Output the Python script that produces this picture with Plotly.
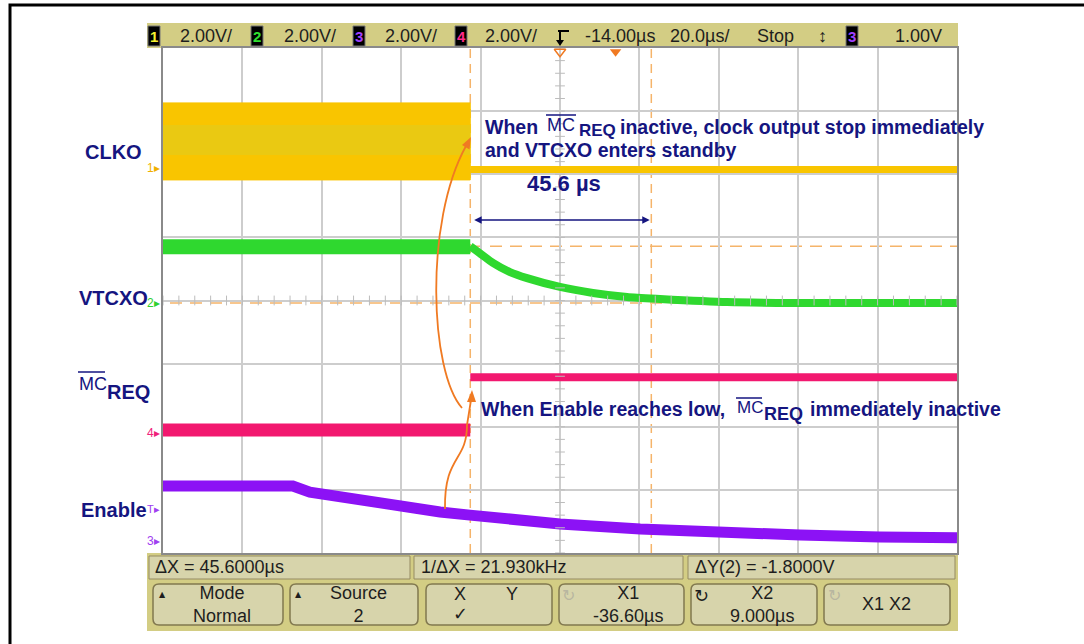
import plotly.graph_objects as go
import numpy as np

W, H = 1084, 644


def px(x):
    return x / W


def py(y):
    return 1 - y / H


# ---------------- scope settings ----------------
t_left, t_right = -114.0, 86.0          # µs (20 µs/div, delay -14 µs)
time_div = 20.0
n_div_y = 8
vdiv = 2.0                               # V/div (all channels)
gnd = {"CLKO": 6.10, "VTCXO": 3.96, "MCREQ": 1.90, "Enable": 0.19}  # ground level (div)
x1_cursor = -36.6
x2_cursor = 9.0
y1_cursor = 1.8
y2_cursor = 0.0
trig_level = 1.0
delay_ref = -14.0
trig_time = 0.0

# ---------------- waveform data (µs, V) ----------------
clko_on_t = [-114.0, -36.6]
clko_on_hi = [2.06, 2.06]
clko_on_lo = [-0.38, -0.38]
clko_mid_hi = [1.36, 1.36]
clko_mid_lo = [0.41, 0.41]
clko_off_t = [-36.6, 86.0]
clko_off_v = [-0.05, -0.05]

vtcxo_on_t = [-114.0, -36.6]
vtcxo_on_v = [1.78, 1.78]
vtcxo_off_t = [-36.6, -34.2, -30.9, -26.6, -22.3, -14.0, -5.7, 2.9, 11.2, 28.1, 44.7, 86.0]
vtcxo_off_v = [1.80, 1.58, 1.27, 0.98, 0.79, 0.51, 0.32, 0.19, 0.13, 0.03, 0.0, 0.0]

mcreq_low_t = [-114.0, -36.6]
mcreq_low_v = [0.10, 0.10]
mcreq_high_t = [-36.6, 86.0]
mcreq_high_v = [1.77, 1.77]

enable_t = [-114.0, -81.3, -77.0, -66.9, -54.3, -44.2, -36.7, -24.1, -14.0, 6.2, 26.3, 46.5, 66.6, 86.0]
enable_v = [1.74, 1.74, 1.55, 1.33, 1.11, 0.92, 0.82, 0.63, 0.54, 0.38, 0.25, 0.19, 0.13, 0.10]

# ---------------- colours ----------------
C_CLKO = "#f9c500"
C_CLKO_MID = "rgba(200,212,60,0.30)"
C_VT = "#2fd82f"
C_MC = "#f2186f"
C_EN = "#8c12f5"
NAVY = "#151580"
ORANGE = "#f07a22"
CURSOR = "#f5b46a"
KHAKI = "#d3cd84"
BOXFILL = "#d7d4ab"
GRID = "#cdcdcd"


def dv(ch, v):
    return [gnd[ch] + val / vdiv for val in v]


fig = go.Figure()

# CLKO oscillating band
fig.add_trace(go.Scatter(
    x=clko_on_t + clko_on_t[::-1],
    y=dv("CLKO", clko_on_hi) + dv("CLKO", clko_on_lo)[::-1],
    fill="toself", fillcolor=C_CLKO, line=dict(color=C_CLKO, width=1),
    mode="lines", hoverinfo="skip"))
fig.add_trace(go.Scatter(
    x=clko_on_t + clko_on_t[::-1],
    y=dv("CLKO", clko_mid_hi) + dv("CLKO", clko_mid_lo)[::-1],
    fill="toself", fillcolor=C_CLKO_MID, line=dict(width=0),
    mode="lines", hoverinfo="skip"))
fig.add_trace(go.Scatter(x=clko_off_t, y=dv("CLKO", clko_off_v), mode="lines",
                         line=dict(color=C_CLKO, width=7), hoverinfo="skip"))

# VTCXO
fig.add_trace(go.Scatter(x=vtcxo_on_t, y=dv("VTCXO", vtcxo_on_v), mode="lines",
                         line=dict(color=C_VT, width=15), hoverinfo="skip"))
fig.add_trace(go.Scatter(x=vtcxo_off_t, y=dv("VTCXO", vtcxo_off_v), mode="lines",
                         line=dict(color=C_VT, width=8, shape="spline", smoothing=0.6),
                         hoverinfo="skip"))

# MCREQ
fig.add_trace(go.Scatter(x=mcreq_low_t, y=dv("MCREQ", mcreq_low_v), mode="lines",
                         line=dict(color=C_MC, width=13), hoverinfo="skip"))
fig.add_trace(go.Scatter(x=mcreq_high_t, y=dv("MCREQ", mcreq_high_v), mode="lines",
                         line=dict(color=C_MC, width=8), hoverinfo="skip"))

# Enable
fig.add_trace(go.Scatter(x=enable_t, y=dv("Enable", enable_v), mode="lines",
                         line=dict(color=C_EN, width=11), hoverinfo="skip"))

# minor ticks on centre lines
yc = n_div_y / 2
xc = (t_left + t_right) / 2
fig.add_trace(go.Scatter(x=[xc] * 41, y=list(np.arange(0, 8.01, 0.2)), mode="markers",
                         marker=dict(symbol="line-ew", size=7, line=dict(color="#bcbcbc", width=1)),
                         hoverinfo="skip"))
fig.add_trace(go.Scatter(x=list(np.arange(t_left, t_right + 0.1, 4.0)), y=[yc] * 51, mode="markers",
                         marker=dict(symbol="line-ns", size=7, line=dict(color="#bcbcbc", width=1)),
                         hoverinfo="skip"))

# delay / trigger markers at top of graticule
fig.add_trace(go.Scatter(x=[delay_ref], y=[n_div_y - 0.06], mode="markers", cliponaxis=False,
                         marker=dict(symbol="triangle-down-open", size=10, color=ORANGE,
                                     line=dict(width=1.5, color=ORANGE)), hoverinfo="skip"))
fig.add_trace(go.Scatter(x=[trig_time], y=[n_div_y - 0.06], mode="markers", cliponaxis=False,
                         marker=dict(symbol="triangle-down", size=10, color=ORANGE), hoverinfo="skip"))

shapes = []
ann = []

# outer frame
shapes.append(dict(type="rect", xref="paper", yref="paper", x0=px(10), y0=py(5), x1=px(1100), y1=py(700),
                   line=dict(color="black", width=3), layer="above"))

# header / footer panels
shapes.append(dict(type="rect", xref="paper", yref="paper", x0=px(147), y0=py(23), x1=px(958), y1=py(48),
                   fillcolor=KHAKI, line=dict(width=0), layer="below"))
shapes.append(dict(type="rect", xref="paper", yref="paper", x0=px(147), y0=py(553), x1=px(958), y1=py(631),
                   fillcolor=KHAKI, line=dict(width=0), layer="below"))

# readout boxes
for (a, b) in [(149, 410), (414, 683), (688, 955)]:
    shapes.append(dict(type="rect", xref="paper", yref="paper", x0=px(a), y0=py(556), x1=px(b), y1=py(579),
                       fillcolor=BOXFILL, line=dict(color="#958b62", width=1)))


def rrect(x0, y0, x1, y1, r):
    return (f"M{px(x0 + r)},{py(y0)} L{px(x1 - r)},{py(y0)} Q{px(x1)},{py(y0)} {px(x1)},{py(y0 + r)} "
            f"L{px(x1)},{py(y1 - r)} Q{px(x1)},{py(y1)} {px(x1 - r)},{py(y1)} "
            f"L{px(x0 + r)},{py(y1)} Q{px(x0)},{py(y1)} {px(x0)},{py(y1 - r)} "
            f"L{px(x0)},{py(y0 + r)} Q{px(x0)},{py(y0)} {px(x0 + r)},{py(y0)} Z")


buttons = [(153, 283), (290, 418), (426, 552), (559, 684), (691, 817), (824, 950)]
for (a, b) in buttons:
    shapes.append(dict(type="path", xref="paper", yref="paper", path=rrect(a, 584, b, 625, 6),
                       fillcolor=BOXFILL, line=dict(color="#81784f", width=1.5)))

# header channel boxes
for (a, num, col) in [(148, "1", "#f5f030"), (251, "2", "#30e030"), (353, "3", "#a040ff"),
                      (455, "4", "#ff2a8a"), (846, "3", "#a040ff")]:
    shapes.append(dict(type="rect", xref="paper", yref="paper", x0=px(a), y0=py(26), x1=px(a + 12), y1=py(46),
                       fillcolor="black", line=dict(color="#777777", width=1)))
    ann.append(dict(x=px(a + 6), y=py(36), xref="paper", yref="paper", text=f"<b>{num}</b>", showarrow=False,
                    font=dict(family="Liberation Sans", size=15, color=col), xanchor="center", yanchor="middle"))

HFONT = "Liberation Sans Narrow, Arial Narrow, Liberation Sans, sans-serif"
for (txt, x) in [("2.00V/", 178), ("2.00V/", 282), ("2.00V/", 383), ("2.00V/", 483),
                 ("-14.00µs", 583), ("20.0µs/", 668), ("Stop", 755), ("↕", 816), ("1.00V", 893)]:
    ann.append(dict(x=px(x), y=py(36), xref="paper", yref="paper", text=txt, showarrow=False,
                    font=dict(family=HFONT, size=18, color="#1e1e1e"), xanchor="left", yanchor="middle"))

# falling-edge trigger symbol
shapes.append(dict(type="line", xref="paper", yref="paper", x0=px(558), y0=py(31), x1=px(569), y1=py(31),
                   line=dict(color="black", width=2)))
shapes.append(dict(type="line", xref="paper", yref="paper", x0=px(560), y0=py(31), x1=px(560), y1=py(42),
                   line=dict(color="black", width=2)))
shapes.append(dict(type="path", xref="paper", yref="paper",
                   path=f"M{px(556)},{py(40)} L{px(564)},{py(40)} L{px(560)},{py(46)} Z",
                   fillcolor="black", line=dict(width=0)))

# footer texts
for (txt, x) in [("ΔX = 45.6000µs", 153), ("1/ΔX = 21.930kHz", 419), ("ΔY(2) = -1.8000V", 693)]:
    ann.append(dict(x=px(x), y=py(567), xref="paper", yref="paper", text=txt, showarrow=False,
                    font=dict(family=HFONT, size=18, color="#1e1e1e"), xanchor="left", yanchor="middle"))

for (txt, x) in [("Mode<br>Normal", 222), ("Source<br>2", 358), ("X1<br>-36.60µs", 628),
                 ("X2<br>9.000µs", 762), ("X1 X2", 886)]:
    ann.append(dict(x=px(x), y=py(604), xref="paper", yref="paper", text=txt, showarrow=False,
                    font=dict(family=HFONT, size=18, color="#1e1e1e"), xanchor="center", yanchor="middle"))
for (txt, x, y) in [("X", 460, 594), ("Y", 512, 594), ("✓", 460, 614)]:
    ann.append(dict(x=px(x), y=py(y), xref="paper", yref="paper", text=txt, showarrow=False,
                    font=dict(family=HFONT, size=18, color="#1e1e1e"), xanchor="center", yanchor="middle"))
for x in [162, 298]:
    ann.append(dict(x=px(x), y=py(594), xref="paper", yref="paper", text="▲", showarrow=False,
                    font=dict(family="DejaVu Sans", size=8, color="#1e1e1e"), xanchor="center", yanchor="middle"))
for (x, col, sz) in [(568, "#b8b6a0", 16), (701, "#1e1e1e", 18), (834, "#b8b6a0", 16)]:
    ann.append(dict(x=px(x), y=py(595), xref="paper", yref="paper", text="↻", showarrow=False,
                    font=dict(family="DejaVu Sans", size=sz, color=col), xanchor="center", yanchor="middle"))

# channel ground markers
for (num, ch, col) in [("1", "CLKO", "#f0b000"), ("2", "VTCXO", "#30d030"), ("4", "MCREQ", "#f0207a"),
                       ("3", "Enable", "#a040f0")]:
    ann.append(dict(x=px(162), y=gnd[ch], xref="paper", yref="y", text=f"{num}▸", showarrow=False,
                    font=dict(family="Liberation Sans", size=12, color=col), xanchor="right", yanchor="middle"))
ann.append(dict(x=px(162), y=gnd["Enable"] + trig_level / vdiv, xref="paper", yref="y", text="T▸",
                showarrow=False, font=dict(family="Liberation Sans", size=11, color="#a040f0"),
                xanchor="right", yanchor="middle"))

# cursors
for xc_ in [x1_cursor, x2_cursor]:
    shapes.append(dict(type="line", xref="x", yref="paper", x0=xc_, x1=xc_, y0=py(553), y1=py(48),
                       line=dict(color=CURSOR, width=1.5, dash="9px,6px"), layer="between"))
for yv in [y1_cursor, y2_cursor]:
    yy = gnd["VTCXO"] + yv / vdiv
    shapes.append(dict(type="line", xref="paper", yref="y", x0=px(170), x1=px(957), y0=yy, y1=yy,
                       line=dict(color=CURSOR, width=1.5, dash="12px,8px"), layer="between"))

# ---------------- annotation texts ----------------
TF = "Liberation Sans, Arial, sans-serif"


def label(txt, x, y, size=20, bold=True, color=NAVY):
    ann.append(dict(x=px(x), y=py(y), xref="paper", yref="paper",
                    text=(f"<b>{txt}</b>" if bold else txt), showarrow=False,
                    font=dict(family=TF, size=size, color=color), xanchor="left", yanchor="middle"))


def overline(x0, x1, y):
    shapes.append(dict(type="line", xref="paper", yref="paper", x0=px(x0), x1=px(x1), y0=py(y), y1=py(y),
                       line=dict(color=NAVY, width=1.5)))


label("CLKO", 83, 152)
label("VTCXO", 77, 298)
label("Enable", 79, 510)
label("MC", 77, 384, size=18, bold=False)
label("REQ", 105, 392, size=20)
overline(78, 105, 372)

label("When", 483, 127, size=19.5)
label("MC", 545, 125, size=18, bold=False)
label("REQ", 577, 131, size=17)
overline(546, 576, 115)
label("inactive, clock output stop immediately", 618, 127, size=19.5)
label("and VTCXO enters standby", 483, 150, size=19.5)
label("45.6 µs", 525, 183, size=22)

label("When Enable reaches low,", 479, 409, size=19.5)
label("MC", 735, 407, size=17, bold=False)
label("REQ", 762, 414, size=18)
overline(736, 762, 398)
label("immediately inactive", 808, 409, size=19.5)

# double arrow between the cursors
ann.append(dict(x=x2_cursor - 0.4, y=(553 - 220) / 63.125, xref="x", yref="y",
                ax=x1_cursor + 0.6, ay=(553 - 220) / 63.125, axref="x", ayref="y",
                text="", showarrow=True, arrowhead=2, startarrowhead=2, arrowside="end+start",
                arrowsize=1, startarrowsize=1, arrowwidth=1.5, arrowcolor=NAVY))

# orange curved arrows
shapes.append(dict(type="path", xref="paper", yref="paper",
                   path=(f"M{px(445)},{py(509)} C{px(444)},{py(455)} {px(467)},{py(462)} "
                         f"{px(467)},{py(425)} L{px(471)},{py(400)}"),
                   line=dict(color=ORANGE, width=1.8)))
shapes.append(dict(type="path", xref="paper", yref="paper",
                   path=f"M{px(472)},{py(390)} L{px(467)},{py(402)} L{px(476)},{py(402)} Z",
                   fillcolor=ORANGE, line=dict(width=0)))
shapes.append(dict(type="path", xref="paper", yref="paper",
                   path=(f"M{px(462)},{py(408)} C{px(430)},{py(372)} {px(424)},{py(222)} "
                         f"{px(466)},{py(146)}"),
                   line=dict(color=ORANGE, width=1.8)))
shapes.append(dict(type="path", xref="paper", yref="paper",
                   path=f"M{px(471)},{py(137)} L{px(469.5)},{py(149.5)} L{px(462)},{py(145)} Z",
                   fillcolor=ORANGE, line=dict(width=0)))

fig.update_layout(
    width=W, height=H, margin=dict(l=0, r=0, t=0, b=0),
    paper_bgcolor="white", plot_bgcolor="white", showlegend=False,
    xaxis=dict(domain=[px(163), px(957)], range=[t_left, t_right], tick0=t_left, dtick=time_div,
               showgrid=True, gridcolor=GRID, gridwidth=1.5, zeroline=False, showticklabels=False,
               ticks="", showline=True, linecolor="#8a8a8a", linewidth=2, mirror=True, fixedrange=True),
    yaxis=dict(domain=[py(553), py(48)], range=[0, n_div_y], tick0=0, dtick=1,
               showgrid=True, gridcolor=GRID, gridwidth=1.5, zeroline=False, showticklabels=False,
               ticks="", showline=True, linecolor="#8a8a8a", linewidth=2, mirror=True, fixedrange=True),
    shapes=shapes, annotations=ann,
)

fig.write_html("out.html", config={"displayModeBar": False},
               post_script="document.body.style.margin='0';document.body.style.overflow='hidden';")
